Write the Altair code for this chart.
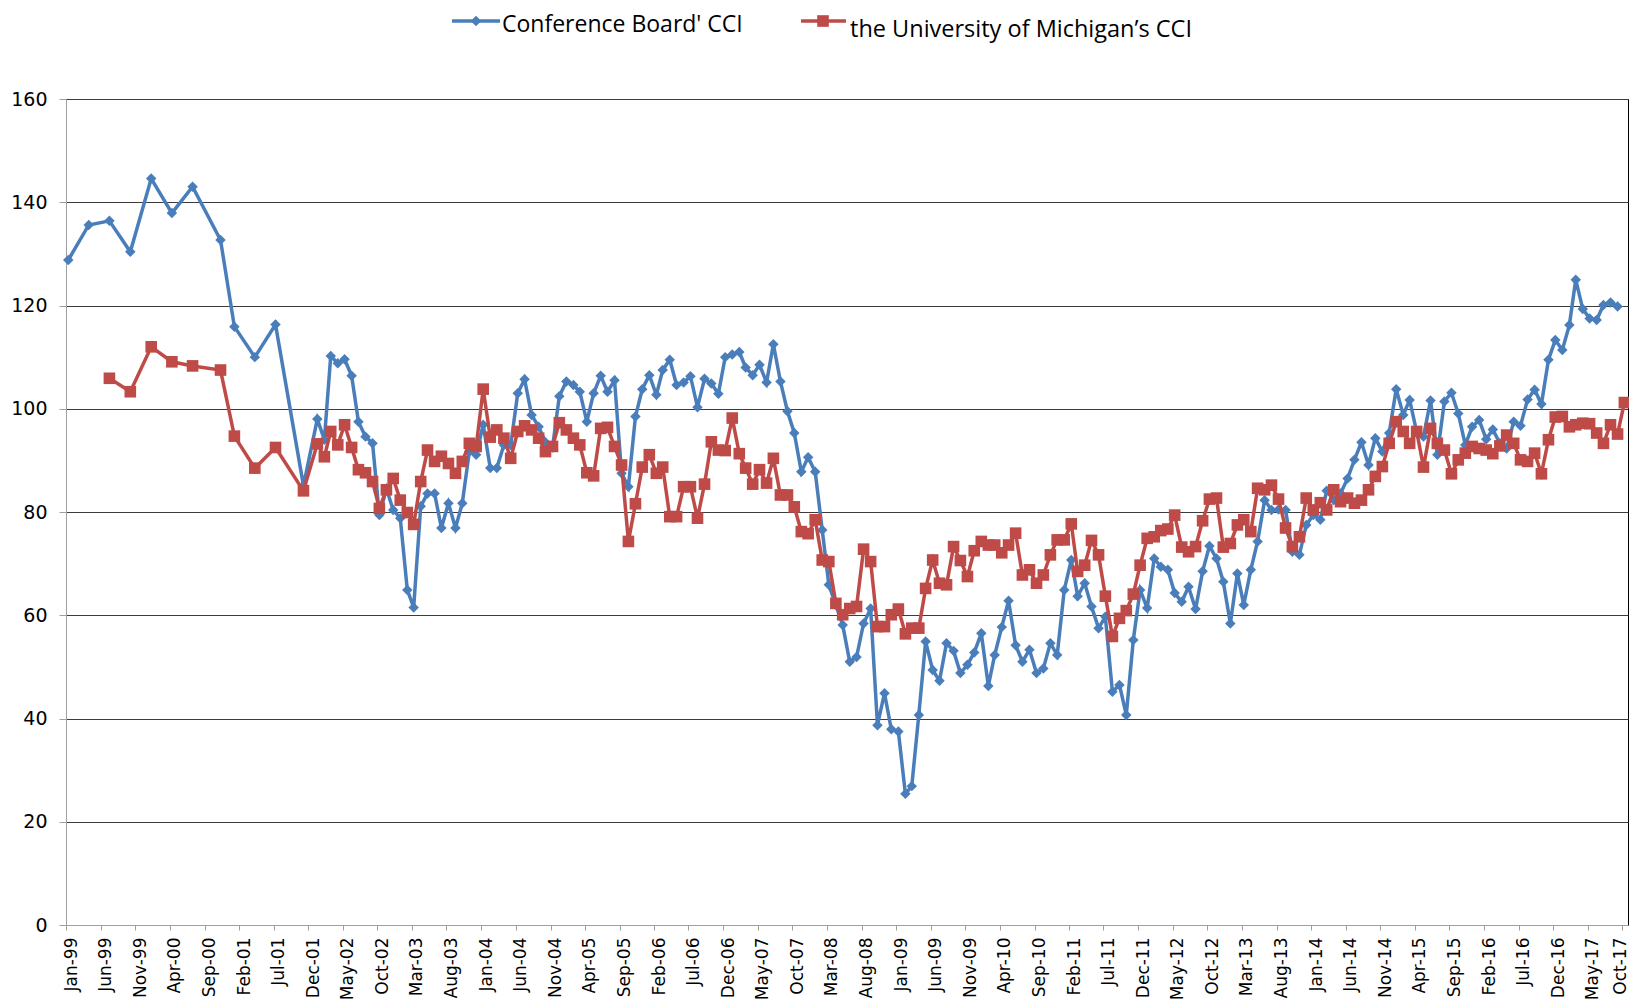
import altair as alt
import pandas as pd

BLUE = "#4a7ebb"
RED = "#be4b48"

# x-axis tick labels (every 5 months)
tick_labels = ["Jan-99", "Jun-99", "Nov-99", "Apr-00", "Sep-00", "Feb-01", "Jul-01", "Dec-01",
               "May-02", "Oct-02", "Mar-03", "Aug-03", "Jan-04", "Jun-04", "Nov-04", "Apr-05",
               "Sep-05", "Feb-06", "Jul-06", "Dec-06", "May-07", "Oct-07", "Mar-08", "Aug-08",
               "Jan-09", "Jun-09", "Nov-09", "Apr-10", "Sep-10", "Feb-11", "Jul-11", "Dec-11",
               "May-12", "Oct-12", "Mar-13", "Aug-13", "Jan-14", "Jun-14", "Nov-14", "Apr-15",
               "Sep-15", "Feb-16", "Jul-16", "Dec-16", "May-17", "Oct-17"]
y_ticks = [0, 20, 40, 60, 80, 100, 120, 140, 160]

# Conference Board' CCI — sparse early readings
cb_sparse_months = ["1999-01", "1999-04", "1999-07", "1999-10", "2000-01", "2000-04",
                    "2000-07", "2000-11", "2001-01", "2001-04", "2001-07", "2001-11"]
cb_sparse_values = [128.8, 135.6, 136.4, 130.4, 144.6, 137.9, 143.0, 132.7, 115.9, 110.0, 116.3, 85.1]
# Conference Board' CCI — monthly from Jan-02
cb_monthly_start = "2002-01"
cb_monthly_values = [
    98.0, 94.0, 110.2, 108.8, 109.6, 106.4, 97.5, 94.6, 93.3, 79.4, 84.5, 80.4,      # 2002
    78.8, 64.9, 61.5, 81.1, 83.6, 83.6, 76.9, 81.7, 76.9, 81.7, 91.7, 91.1,          # 2003
    96.9, 88.5, 88.5, 93.0, 93.0, 103.0, 105.7, 98.8, 96.5, 93.5, 92.5, 102.4,       # 2004
    105.3, 104.6, 103.3, 97.5, 103.0, 106.4, 103.3, 105.5, 87.5, 84.9, 98.5, 103.8,  # 2005
    106.5, 102.7, 107.5, 109.5, 104.6, 105.1, 106.3, 100.3, 105.8, 104.9, 102.9, 110.0,  # 2006
    110.5, 111.0, 108.0, 106.5, 108.5, 105.1, 112.5, 105.3, 99.5, 95.3, 87.8, 90.6,  # 2007
    87.8, 76.5, 65.9, 62.0, 58.1, 51.0, 51.9, 58.4, 61.3, 38.7, 44.9, 37.9,          # 2008
    37.5, 25.4, 26.9, 40.7, 54.9, 49.4, 47.3, 54.6, 53.1, 48.8, 50.4, 52.8,          # 2009
    56.5, 46.3, 52.3, 57.7, 62.8, 54.2, 51.0, 53.3, 48.8, 49.7, 54.6, 52.3,          # 2010
    64.9, 70.7, 63.7, 66.2, 61.7, 57.5, 59.7, 45.2, 46.5, 40.7, 55.2, 64.9,          # 2011
    61.4, 71.0, 69.4, 68.8, 64.3, 62.6, 65.5, 61.2, 68.5, 73.4, 71.0, 66.5,          # 2012
    58.4, 68.1, 62.0, 68.8, 74.3, 82.3, 80.4, 80.5, 80.4, 72.3, 71.7, 77.5,          # 2013
    79.4, 78.5, 84.1, 82.3, 83.6, 86.5, 90.1, 93.5, 89.1, 94.3, 91.7, 95.3,          # 2014
    103.8, 98.8, 101.7, 95.5, 94.6, 101.6, 91.1, 101.4, 103.1, 99.1, 93.0, 96.5,     # 2015
    97.8, 94.1, 96.0, 93.3, 92.3, 97.5, 96.7, 101.8, 103.7, 100.9, 109.5, 113.3,     # 2016
    111.4, 116.2, 125.0, 119.3, 117.5, 117.2, 120.1, 120.6, 119.8,                   # 2017
]

# University of Michigan's CCI — sparse early readings
um_sparse_months = ["1999-07", "1999-10", "2000-01", "2000-04", "2000-07", "2000-11",
                    "2001-01", "2001-04", "2001-07", "2001-11"]
um_sparse_values = [105.9, 103.3, 112.0, 109.1, 108.3, 107.5, 94.7, 88.5, 92.5, 84.1]
# University of Michigan's CCI — monthly from Jan-02
um_monthly_start = "2002-01"
um_monthly_values = [
    93.2, 90.7, 95.6, 93.0, 96.9, 92.5, 88.2, 87.6, 85.9, 80.7, 84.3, 86.5,   # 2002
    82.3, 79.9, 77.6, 85.9, 92.0, 89.8, 90.8, 89.4, 87.5, 89.8, 93.3, 92.7,   # 2003
    103.8, 94.5, 95.9, 94.3, 90.4, 95.6, 96.7, 95.9, 94.3, 91.7, 92.7, 97.3,  # 2004
    95.9, 94.3, 93.0, 87.6, 87.0, 96.2, 96.4, 92.7, 89.1, 74.3, 81.6, 88.7,   # 2005
    91.1, 87.5, 88.7, 79.1, 79.1, 84.9, 84.9, 78.8, 85.4, 93.6, 92.0, 91.9,   # 2006
    98.2, 91.3, 88.5, 85.4, 88.2, 85.6, 90.4, 83.3, 83.3, 81.0, 76.2, 75.8,   # 2007
    78.5, 70.7, 70.4, 62.3, 60.1, 61.3, 61.7, 72.8, 70.4, 57.8, 57.8, 60.1,   # 2008
    61.2, 56.4, 57.5, 57.5, 65.2, 70.7, 66.2, 65.9, 73.3, 70.6, 67.5, 72.5,   # 2009
    74.3, 73.6, 73.6, 72.1, 73.6, 75.9, 67.8, 68.8, 66.2, 67.8, 71.7, 74.6,   # 2010
    74.6, 77.7, 68.5, 69.7, 74.5, 71.7, 63.7, 55.9, 59.4, 60.9, 64.1, 69.7,   # 2011
    74.9, 75.2, 76.4, 76.7, 79.4, 73.2, 72.3, 73.3, 78.3, 82.5, 82.7, 73.2,   # 2012
    73.9, 77.5, 78.5, 76.2, 84.6, 84.3, 85.2, 82.5, 76.9, 73.3, 75.2, 82.7,   # 2013
    80.4, 81.8, 80.4, 84.3, 82.0, 82.7, 81.7, 82.3, 84.3, 86.9, 88.8, 93.3,   # 2014
    97.5, 95.6, 93.3, 95.6, 88.7, 96.2, 93.3, 92.0, 87.4, 90.1, 91.4, 92.7,   # 2015
    92.3, 92.0, 91.3, 92.8, 94.9, 93.3, 90.1, 89.8, 91.4, 87.4, 94.0, 98.4,   # 2016
    98.5, 96.5, 96.9, 97.2, 97.1, 95.3, 93.3, 96.9, 95.1, 101.2,              # 2017
]


def build(sparse_months, sparse_values, start, monthly_values):
    d1 = list(pd.to_datetime(sparse_months, format="%Y-%m"))
    d2 = list(pd.date_range(start=start, periods=len(monthly_values), freq="MS"))
    return pd.DataFrame({
        "date": [d.strftime("%Y-%m-%d") for d in d1 + d2],
        "value": list(sparse_values) + list(monthly_values),
    })


cb = build(cb_sparse_months, cb_sparse_values, cb_monthly_start, cb_monthly_values)
um = build(um_sparse_months, um_sparse_values, um_monthly_start, um_monthly_values)

tick_dates = pd.to_datetime(tick_labels, format="%b-%y")
tick_values = [alt.DateTime(year=int(d.year), month=int(d.month), date=1, utc=True) for d in tick_dates]

x_enc = alt.X(
    "date:T",
    scale=alt.Scale(type="utc",
                    domain=[alt.DateTime(year=1998, month=12, date=22, utc=True),
                            alt.DateTime(year=2017, month=10, date=17, utc=True)]),
    axis=alt.Axis(values=tick_values, labelExpr="utcFormat(datum.value, '%b-%y')", labelAngle=270,
                  labelFont="DejaVu Sans", labelFontSize=17, labelColor="#000000",
                  tickColor="#a0a0a0", tickSize=5, tickOffset=-2,
                  labelOffset={"condition": {"test": "datum.value >= utc(2017, 9, 1)", "value": -2},
                               "value": 5},
                  labelPadding=7,
                  domainColor="#a0a0a0", grid=False, title=None,
                  labelOverlap=False, labelBound=False, labelFlush=False, labelSeparation=0),
)
y_enc = alt.Y(
    "value:Q",
    scale=alt.Scale(domain=[0, 160], nice=False, zero=True),
    axis=alt.Axis(values=y_ticks, labelFont="DejaVu Sans", labelFontSize=19, labelColor="#000000",
                  tickColor="#a0a0a0", tickSize=7, labelPadding=12, domainColor="#a0a0a0",
                  gridColor="#3c3c3c", gridWidth=1, title=None),
)

cb_line = alt.Chart(cb).mark_line(color=BLUE, strokeWidth=3.5).encode(x=x_enc, y=y_enc)
cb_pts = alt.Chart(cb).mark_point(shape="diamond", filled=True, size=110, color=BLUE, opacity=1).encode(
    x=x_enc, y=y_enc)
um_line = alt.Chart(um).mark_line(color=RED, strokeWidth=3.5).encode(x=x_enc, y=y_enc)
um_pts = alt.Chart(um).mark_square(size=135, color=RED, opacity=1).encode(x=x_enc, y=y_enc)

# legend (drawn above the plot area)
leg_src = pd.DataFrame({"k": [0]})
leg_cb_line = alt.Chart(leg_src).mark_rule(color=BLUE, strokeWidth=3.5).encode(
    x=alt.value(386), x2=alt.value(434), y=alt.value(-78))
leg_cb_pt = alt.Chart(leg_src).mark_point(shape="diamond", filled=True, size=110, color=BLUE, opacity=1).encode(
    x=alt.value(410), y=alt.value(-78))
leg_cb_txt = alt.Chart(leg_src).mark_text(align="left", baseline="middle", font="Open Sans", fontSize=23,
                                           color="#000000").encode(
    x=alt.value(436), y=alt.value(-74), text=alt.value("Conference Board' CCI"))
leg_um_line = alt.Chart(leg_src).mark_rule(color=RED, strokeWidth=3.5).encode(
    x=alt.value(735), x2=alt.value(780), y=alt.value(-78))
leg_um_pt = alt.Chart(leg_src).mark_square(size=135, color=RED, opacity=1).encode(
    x=alt.value(757), y=alt.value(-78))
leg_um_txt = alt.Chart(leg_src).mark_text(align="left", baseline="middle", font="Open Sans", fontSize=23.5,
                                           color="#000000").encode(
    x=alt.value(784), y=alt.value(-69), text=alt.value("the University of Michigan\u2019s CCI"))

chart = alt.layer(
    cb_line, cb_pts, um_line, um_pts,
    leg_cb_line, leg_cb_pt, leg_cb_txt, leg_um_line, leg_um_pt, leg_um_txt,
).properties(
    width=1562, height=826,
    autosize=alt.AutoSizeParams(type="none"),
    padding={"left": 58, "top": 91, "right": 1, "bottom": 80},
    background="#ffffff",
).configure_view(
    stroke="#000000", strokeWidth=1,
).configure_axisX(
    labelOverlap=False,
)

chart.save("out.html", embed_options={"renderer": "svg", "actions": False})
